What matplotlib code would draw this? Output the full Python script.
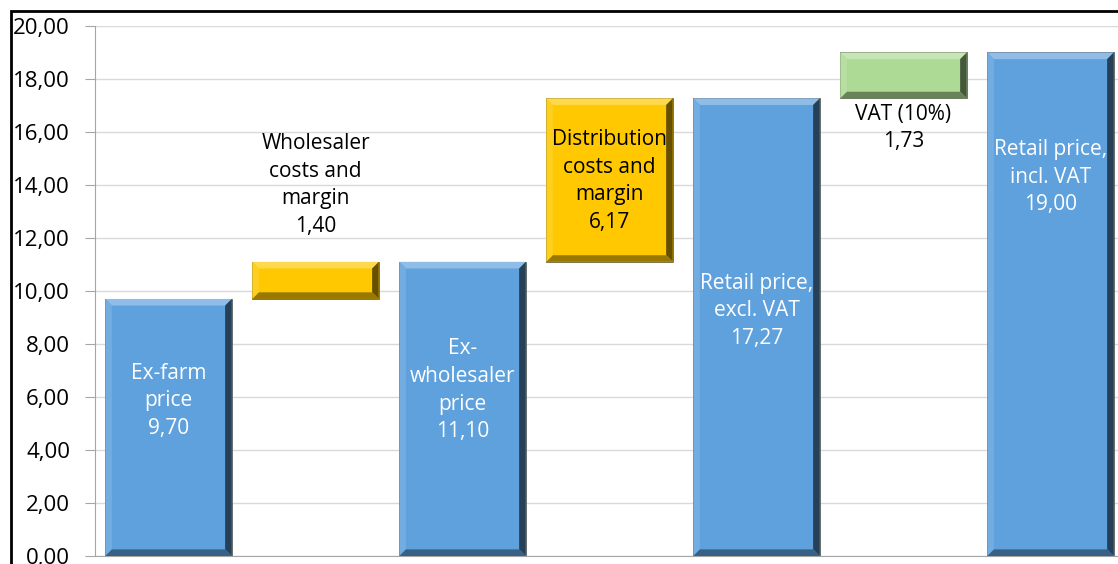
import matplotlib.pyplot as plt
import matplotlib.colors as mcolors
from matplotlib.patches import Polygon, Rectangle
import numpy as np

plt.rcParams['font.family'] = ['Open Sans', 'DejaVu Sans']

labels = ['Ex-farm\nprice', 'Wholesaler\ncosts and\nmargin', 'Ex-\nwholesaler\nprice',
          'Distribution\ncosts and\nmargin', 'Retail price,\nexcl. VAT', 'VAT (10%)', 'Retail price,\nincl. VAT']
bottoms = [0, 9.70, 0, 11.10, 0, 17.27, 0]
heights = [9.70, 1.40, 11.10, 6.17, 17.27, 1.73, 19.00]
values = [9.70, 1.40, 11.10, 6.17, 17.27, 1.73, 19.00]
kinds = ['total', 'step', 'total', 'step', 'total', 'vat', 'total']

colors = {'total': '#5fa1dd', 'step': '#ffc800', 'vat': '#addb95'}
label_y = [5.85, 14.0, 6.25, 14.15, 9.25, 16.15, 14.3]
text_col = {'total': 'white', 'step': 'black', 'vat': 'black'}

fig = plt.figure(figsize=(11.18, 5.64), dpi=100)
ax = fig.add_axes([0.085, 0.0142, 0.9204, 0.9397])

w = 0.86
bx = 0.045
by = 0.25
x = np.arange(len(values))
for i in x:
    c = colors[kinds[i]]
    b = bottoms[i]
    h = heights[i]
    ax.bar(i, h, bottom=b, width=w, color=c, edgecolor='#4a4a3a', linewidth=0.5, zorder=2)
    l, r, t = i - w / 2, i + w / 2, b + h
    rgb = np.array(mcolors.to_rgb(c))
    light = np.clip(rgb + (1 - rgb) * 0.3, 0, 1)
    dark = rgb * 0.6
    darker = rgb * 0.4
    ax.add_patch(Polygon([(l, t), (r, t), (r - bx, t - by), (l + bx, t - by)], closed=True,
                         facecolor=light, edgecolor='none', zorder=3))
    ax.add_patch(Polygon([(l, b), (l, t), (l + bx, t - by), (l + bx, b + by)], closed=True,
                         facecolor=np.clip(rgb + (1 - rgb) * 0.12, 0, 1), edgecolor='none', zorder=3))
    ax.add_patch(Polygon([(r, b), (r, t), (r - bx, t - by), (r - bx, b + by)], closed=True,
                         facecolor=darker, edgecolor='none', zorder=3))
    ax.add_patch(Polygon([(l, b), (r, b), (r - bx, b + by), (l + bx, b + by)], closed=True,
                         facecolor=dark, edgecolor='none', zorder=3))
    txt = labels[i] + '\n' + ('%.2f' % values[i]).replace('.', ',')
    ax.text(i, label_y[i], txt, ha='center', va='center', fontsize=15, linespacing=1.42,
            color=text_col[kinds[i]], zorder=5)

ax.set_xlim(-0.5, 6.5)
ax.set_ylim(0, 20)
ax.set_yticks(np.arange(0, 21, 2))
ax.set_yticklabels([('%.2f' % v).replace('.', ',') for v in np.arange(0, 21, 2)], fontsize=16)
ax.set_xticks([])
ax.tick_params(axis='y', length=7, color='#a6a6a6', pad=11)
ax.grid(axis='y', color='#d9d9d9', linewidth=1, zorder=0)
ax.set_axisbelow(True)
for s in ['top', 'right']:
    ax.spines[s].set_visible(False)
ax.spines['left'].set_color('#a6a6a6')
ax.spines['bottom'].set_color('#a6a6a6')

fig.patches.append(Rectangle((11 / 1118, -0.1), 1.2, 1 - 11 / 564 + 0.1, transform=fig.transFigure,
                             fill=False, edgecolor='black', linewidth=2, zorder=10))

fig.savefig('out.png', dpi=100)
